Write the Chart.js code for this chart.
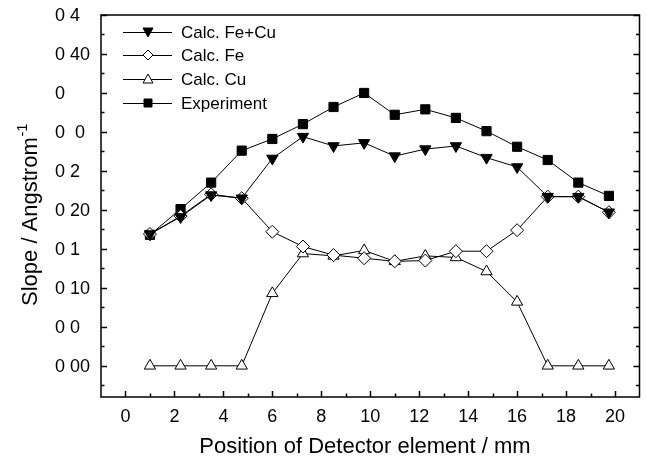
<!DOCTYPE html>
<html>
<head>
<meta charset="utf-8">
<script src="https://cdn.jsdelivr.net/npm/chart.js@4.4.1/dist/chart.umd.min.js"></script>
<style>
  html, body { margin: 0; padding: 0; background: #fff; }
</style>
</head>
<body>
<canvas id="slopeChart" width="647" height="463"></canvas>
<script>
// detector element positions (mm)
const positions = [1.0, 2.25, 3.5, 4.75, 6.0, 7.25, 8.5, 9.75, 11.0, 12.25, 13.5, 14.75, 16.0, 17.25, 18.5, 19.75];

const calcFeCu = [0.0169, 0.0191, 0.0219, 0.0215, 0.0266, 0.0294, 0.0282, 0.0286, 0.0269, 0.0278, 0.0282, 0.0267, 0.0255, 0.0217, 0.0217, 0.0197];
const calcFe = [0.0169, 0.0192, 0.0220, 0.0215, 0.0172, 0.0153, 0.0142, 0.0138, 0.0134, 0.0135, 0.0147, 0.0147, 0.0174, 0.0217, 0.0217, 0.0197];
const calcCu = [0, 0, 0, 0, 0.0093, 0.0144, 0.0141, 0.0148, 0.0134, 0.0141, 0.0139, 0.0121, 0.0082, 0, 0, 0];
const experiment = [0.0168, 0.0201, 0.0235, 0.0276, 0.0291, 0.0310, 0.0332, 0.0350, 0.0322, 0.0329, 0.0318, 0.0301, 0.0281, 0.0264, 0.0235, 0.0218];

const seriesNames = ['Calc. Fe+Cu', 'Calc. Fe', 'Calc. Cu', 'Experiment'];

const xTickValues = [0, 2, 4, 6, 8, 10, 12, 14, 16, 18, 20];
const yTickValues = [0, 0.005, 0.010, 0.015, 0.020, 0.025, 0.030, 0.035, 0.040, 0.045];
// tick labels as printed in the figure (left aligned, some glyphs missing)
const yTickLabels = ['0 00', '0 0', '0 10', '0 1', '0 20', '0 2', '0  0', '0', '0 40', '0 4'];

const FONT = 'Liberation Sans, Arial, sans-serif';

function toPoints(values) {
    return positions.map((x, i) => ({ x: x, y: values[i] }));
}

function drawMarker(ctx, style, x, y, r, filled) {
    ctx.beginPath();
    if (style === 'rect') {
        ctx.rect(x - r, y - r, 2 * r, 2 * r);
    } else if (style === 'diamond') {
        ctx.moveTo(x, y - r);
        ctx.lineTo(x + r, y);
        ctx.lineTo(x, y + r);
        ctx.lineTo(x - r, y);
        ctx.closePath();
    } else if (style === 'up') {
        ctx.moveTo(x, y - r);
        ctx.lineTo(x + r, y + r * 0.8);
        ctx.lineTo(x - r, y + r * 0.8);
        ctx.closePath();
    } else if (style === 'down') {
        ctx.moveTo(x, y + r);
        ctx.lineTo(x + r, y - r * 0.8);
        ctx.lineTo(x - r, y - r * 0.8);
        ctx.closePath();
    }
    ctx.fillStyle = filled ? '#000' : '#fff';
    ctx.fill();
    ctx.strokeStyle = '#000';
    ctx.lineWidth = 1;
    ctx.stroke();
}

const frameAndText = {
    id: 'frameAndText',
    afterDraw(chart) {
        const ctx = chart.ctx;
        const a = chart.chartArea;
        const xs = chart.scales.x;
        const ys = chart.scales.y;
        ctx.save();

        // frame
        ctx.strokeStyle = '#000';
        ctx.lineWidth = 1.5;
        ctx.strokeRect(a.left, a.top, a.right - a.left, a.bottom - a.top);

        // inward ticks, bottom axis
        for (let v = 0; v <= 20; v++) {
            const px = Math.round(xs.getPixelForValue(v)) + 0.5;
            const len = v % 2 === 0 ? 6 : 3.5;
            ctx.beginPath();
            ctx.moveTo(px, a.bottom);
            ctx.lineTo(px, a.bottom - len);
            ctx.stroke();
        }
        // inward ticks, left and right axes
        for (let k = -1; k <= 18; k++) {
            const v = k * 0.0025;
            const py = Math.round(ys.getPixelForValue(v)) + 0.5;
            const len = k % 2 === 0 ? 6 : 3.5;
            ctx.beginPath();
            ctx.moveTo(a.left, py);
            ctx.lineTo(a.left + len, py);
            ctx.moveTo(a.right, py);
            ctx.lineTo(a.right - len, py);
            ctx.stroke();
        }

        // y tick labels, left aligned
        ctx.fillStyle = '#000';
        ctx.font = '18px ' + FONT;
        ctx.textAlign = 'left';
        ctx.textBaseline = 'middle';
        yTickValues.forEach((v, i) => {
            ctx.fillText(yTickLabels[i], 55, ys.getPixelForValue(v) + 1);
        });

        // legend
        const styles = ['down', 'diamond', 'up', 'rect'];
        const filled = [true, false, false, true];
        const rowY = [32, 55, 79, 103];
        ctx.font = '17px ' + FONT;
        for (let i = 0; i < seriesNames.length; i++) {
            const y = rowY[i];
            ctx.strokeStyle = '#000';
            ctx.lineWidth = 1;
            ctx.beginPath();
            ctx.moveTo(123, y + 0.5);
            ctx.lineTo(172, y + 0.5);
            ctx.stroke();
            drawMarker(ctx, styles[i], 148, y, i === 3 ? 4 : 5, filled[i]);
            ctx.fillStyle = '#000';
            ctx.fillText(seriesNames[i], 181, y + 1);
        }

        // x title
        ctx.font = '22px ' + FONT;
        ctx.textAlign = 'center';
        ctx.textBaseline = 'alphabetic';
        ctx.fillText('Position of Detector element / mm', 365, 453);

        // y title with superscript
        ctx.translate(37, 306);
        ctx.rotate(-Math.PI / 2);
        ctx.textAlign = 'left';
        ctx.font = '22px ' + FONT;
        const main = 'Slope / Angstrom';
        ctx.fillText(main, 0, 0);
        const w = ctx.measureText(main).width;
        ctx.font = '14px ' + FONT;
        ctx.fillText('-1', w + 1, -10);
        ctx.restore();
    }
};

const baseDataset = {
    borderColor: '#000',
    borderWidth: 1,
    tension: 0,
    pointBorderColor: '#000',
    pointBorderWidth: 1,
    pointHoverRadius: 0
};

new Chart(document.getElementById('slopeChart').getContext('2d'), {
    type: 'line',
    data: {
        datasets: [
            Object.assign({}, baseDataset, {
                label: seriesNames[0],
                data: toPoints(calcFeCu),
                pointStyle: 'triangle',
                pointRotation: 180,
                pointRadius: 6.5,
                pointBackgroundColor: '#000'
            }),
            Object.assign({}, baseDataset, {
                label: seriesNames[1],
                data: toPoints(calcFe),
                pointStyle: 'rectRot',
                pointRadius: 6.5,
                pointBackgroundColor: '#fff'
            }),
            Object.assign({}, baseDataset, {
                label: seriesNames[2],
                data: toPoints(calcCu),
                pointStyle: 'triangle',
                pointRadius: 6.5,
                pointBackgroundColor: '#fff'
            }),
            Object.assign({}, baseDataset, {
                label: seriesNames[3],
                data: toPoints(experiment),
                pointStyle: 'rect',
                pointRadius: 6.5,
                pointBackgroundColor: '#000'
            })
        ]
    },
    options: {
        responsive: false,
        animation: false,
        devicePixelRatio: 1,
        layout: { padding: { top: 15, right: 1, left: 0, bottom: 0 } },
        plugins: {
            legend: { display: false },
            tooltip: { enabled: false }
        },
        scales: {
            x: {
                type: 'linear',
                min: -1,
                max: 21,
                afterBuildTicks: function (scale) {
                    scale.ticks = xTickValues.map(v => ({ value: v }));
                },
                afterFit: function (scale) { scale.height = 66; },
                grid: { display: false, drawTicks: false },
                border: { display: false },
                ticks: {
                    color: '#000',
                    font: { family: FONT, size: 18 },
                    padding: 9,
                    maxRotation: 0,
                    autoSkip: false
                }
            },
            y: {
                type: 'linear',
                min: -0.004,
                max: 0.045,
                afterBuildTicks: function (scale) {
                    scale.ticks = yTickValues.map(v => ({ value: v }));
                },
                afterFit: function (scale) { scale.width = 101; },
                grid: { display: false, drawTicks: false },
                border: { display: false },
                ticks: { display: false }
            }
        }
    },
    plugins: [frameAndText]
});
</script>
</body>
</html>
